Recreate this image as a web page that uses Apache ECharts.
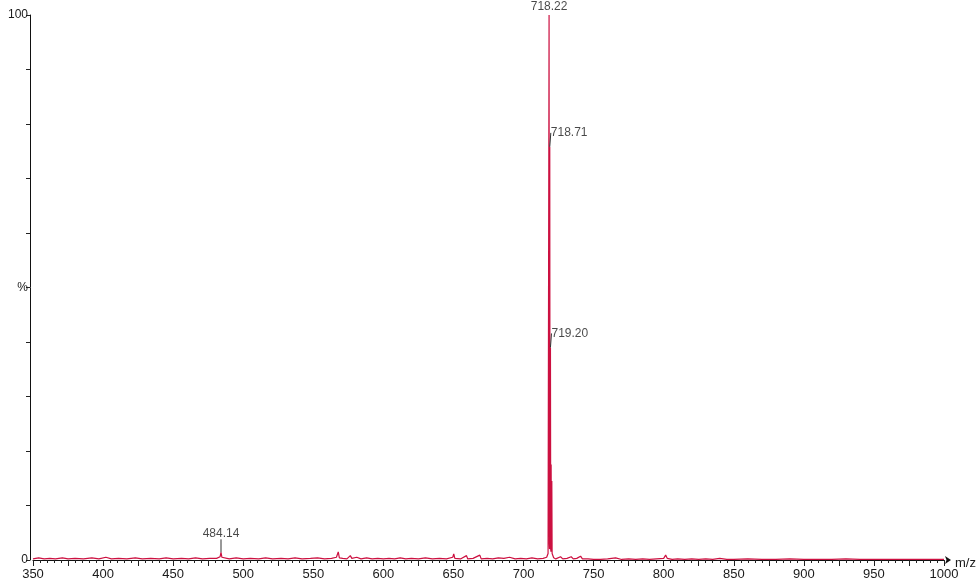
<!DOCTYPE html>
<html>
<head>
<meta charset="utf-8">
<script src="https://cdn.jsdelivr.net/npm/echarts@6/dist/echarts.min.js"></script>
<style>
  html, body { margin: 0; padding: 0; background: #ffffff; }
  #chart { width: 980px; height: 584px; }
</style>
</head>
<body>
<div id="chart"></div>
<script>
// m/z values of the profile spectrum
const mz = [
  350, 354, 358, 362, 366, 371, 375, 380, 386, 392, 397, 402, 406, 411, 417, 423, 428, 434, 440, 445,
  450, 456, 461, 466, 471, 476, 481, 483.5, 484.14, 484.8, 486, 490, 495, 500, 505, 511, 516, 521, 527, 532,
  537, 542, 548, 553, 558, 563, 566.5, 567.8, 568.6, 571, 574, 576.4, 577.5, 581, 584, 588, 592, 596, 600, 604,
  608, 612, 616, 620, 625, 630, 635, 640, 645, 649.5, 650.2, 651, 655, 659.3, 660.2, 664, 668.8, 669.8, 674, 678,
  682, 686, 690, 694, 698, 702, 706, 710, 714, 716.5, 717.5, 718.0, 718.22, 718.4, 718.55, 718.71, 718.9, 719.05,
  719.2, 719.4, 719.55, 719.69, 719.9, 720.05, 720.18, 720.4, 720.8, 721.5, 723, 726.4, 728, 731, 734, 735.5,
  738, 740.7, 742, 746, 750, 755, 760, 765.7, 770, 775, 780, 785, 790, 795, 800, 801.4, 802.5, 806, 810, 815,
  820, 825, 830, 835, 840, 845, 850, 860, 870, 880, 890, 900, 910, 920, 930, 940, 950, 960, 970, 980, 990, 1000
];
// relative intensity (%) at each m/z above
const intensity = [
  0.2, 0.4, 0.2, 0.3, 0.2, 0.4, 0.2, 0.3, 0.2, 0.4, 0.2, 0.5, 0.2, 0.3, 0.2, 0.4, 0.2, 0.3, 0.2, 0.4,
  0.2, 0.3, 0.2, 0.4, 0.2, 0.3, 0.3, 0.6, 1.4, 0.5, 0.3, 0.2, 0.4, 0.2, 0.3, 0.2, 0.4, 0.2, 0.3, 0.2,
  0.4, 0.2, 0.3, 0.4, 0.2, 0.3, 0.5, 1.5, 0.4, 0.3, 0.2, 0.8, 0.3, 0.5, 0.2, 0.4, 0.2, 0.3, 0.2, 0.3,
  0.2, 0.4, 0.2, 0.3, 0.2, 0.4, 0.2, 0.3, 0.2, 0.5, 1.1, 0.3, 0.2, 0.8, 0.2, 0.3, 0.9, 0.2, 0.3, 0.2,
  0.4, 0.3, 0.5, 0.2, 0.3, 0.2, 0.4, 0.2, 0.3, 0.5, 1.2, 1.5, 100, 3, 2, 75.8, 2.5, 2,
  39, 2, 1.5, 17.5, 1.5, 1.2, 14.5, 1.2, 1.0, 0.4, 0.2, 0.6, 0.2, 0.3, 0.6, 0.2,
  0.3, 0.7, 0.2, 0.2, 0.1, 0.1, 0.2, 0.4, 0.1, 0.2, 0.1, 0.2, 0.1, 0.2, 0.3, 0.9, 0.3, 0.1, 0.2, 0.1,
  0.2, 0.1, 0.2, 0.1, 0.3, 0.1, 0.1, 0.2, 0.1, 0.1, 0.2, 0.1, 0.1, 0.1, 0.2, 0.1, 0.1, 0.1, 0.1, 0.1, 0.1, 0.1
];
// labelled peaks
const peakMz = [718.22, 718.71, 719.20, 484.14];
const peakIntensity = [100, 75.8, 39, 1.4];
const peakText = ['718.22', '718.71', '719.20', '484.14'];

const xTickLabels = ['350','400','450','500','550','600','650','700','750','800','850','900','950','1000'];
const xAxisName = 'm/z';

const chart = echarts.init(document.getElementById('chart'), null, { renderer: 'canvas' });

const spectrum = mz.map((m, i) => [m, intensity[i]]);

const labelStyles = [
  { label: { position: 'top', distance: 2 }, labelLayout: null, line: false },
  { label: { position: 'right', distance: 4 }, labelLayout: { dx: -3, dy: -14 }, line: true },
  { label: { position: 'right', distance: 4 }, labelLayout: { dx: -3, dy: -14 }, line: true },
  { label: { position: 'top', distance: 2 }, labelLayout: { dy: -11 }, line: true }
];

const FONT = 'Liberation Sans, Arial, sans-serif';

const labelSeries = peakMz.map((m, i) => ({
  type: 'scatter',
  symbolSize: 0.1,
  silent: true,
  z: 5,
  data: [[m, peakIntensity[i]]],
  label: Object.assign({
    show: true,
    formatter: peakText[i],
    color: '#1a1a1a',
    fontSize: 12,
    fontFamily: FONT
  }, labelStyles[i].label),
  labelLayout: labelStyles[i].labelLayout || undefined,
  labelLine: { show: labelStyles[i].line, lineStyle: { color: '#333', width: 1 } }
}));

const option = {
  backgroundColor: '#ffffff',
  animation: false,
  title: {
    text: xAxisName,
    left: 955,
    top: 557,
    padding: 0,
    textStyle: { color: '#1a1a1a', fontSize: 13, fontWeight: 'normal', fontFamily: FONT }
  },
  grid: { left: 33, right: 36, top: 15, bottom: 24, containLabel: false, outerBoundsMode: 'none' },
  xAxis: {
    type: 'value',
    min: 350,
    max: 1000,
    interval: 25,
    axisLine: { show: true, lineStyle: { color: '#111', width: 1 }, symbol: ['none', 'arrow'], symbolSize: [6, 6], symbolOffset: [0, 7] },
    axisTick: { show: true, inside: false, length: 6, lineStyle: { color: '#222' } },
    minorTick: { show: true, splitNumber: 5, length: 3, lineStyle: { color: '#222' } },
    axisLabel: {
      color: '#1a1a1a', fontSize: 13, margin: 8,
      fontFamily: FONT,
      formatter: v => xTickLabels.includes(String(v)) ? String(v) : ''
    },
    splitLine: { show: false }
  },
  yAxis: {
    type: 'value',
    min: 0,
    max: 100,
    interval: 10,
    offset: 3,
    axisLine: { show: true, lineStyle: { color: '#111', width: 1 } },
    axisTick: { show: true, inside: false, length: 4, lineStyle: { color: '#222' } },
    axisLabel: {
      color: '#1a1a1a', fontSize: 12, margin: 2,
      fontFamily: FONT,
      formatter: v => v === 100 ? '100' : (v === 50 ? '%' : (v === 0 ? '0' : ''))
    },
    splitLine: { show: false }
  },
  series: [
    {
      type: 'line',
      data: spectrum,
      showSymbol: false,
      symbol: 'none',
      lineStyle: { color: '#cc1040', width: 1.2 },
      z: 3,
      silent: true
    }
  ].concat(labelSeries)
};

chart.setOption(option);
</script>
</body>
</html>
